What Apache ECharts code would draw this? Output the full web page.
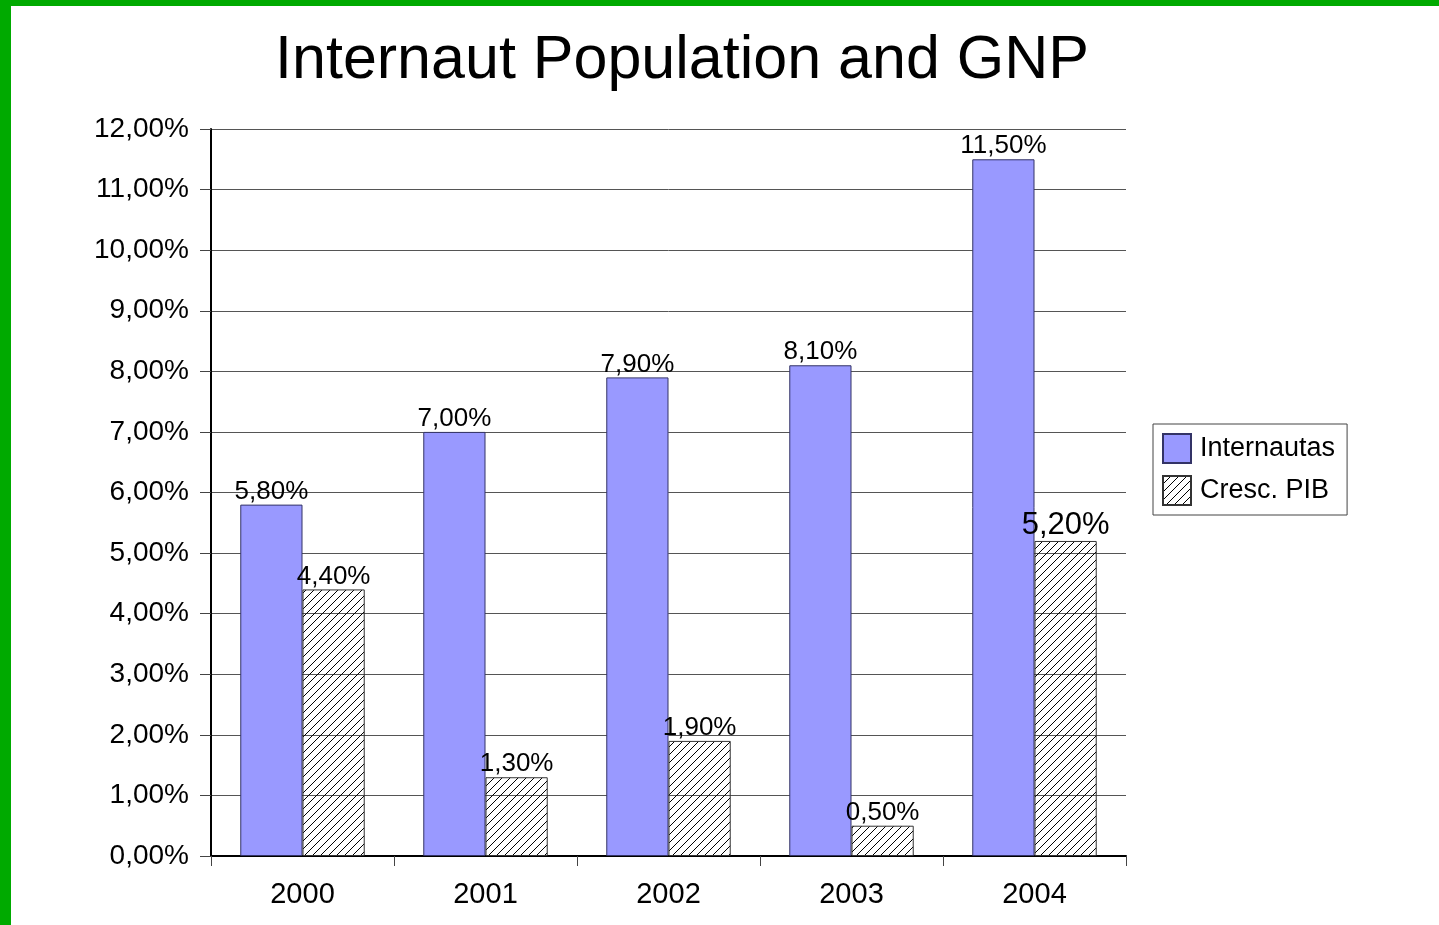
<!DOCTYPE html>
<html>
<head>
<meta charset="utf-8">
<script src="https://cdn.jsdelivr.net/npm/echarts@6/dist/echarts.min.js"></script>
<style>
html,body{margin:0;padding:0;background:#fff;}
#chart{position:absolute;left:0;top:0;width:1439px;height:925px;}
.gl{position:absolute;left:0;top:0;width:11px;height:925px;background:#00aa00;}
.gt{position:absolute;left:0;top:0;width:1439px;height:6px;background:#00aa00;}
</style>
</head>
<body>
<div id="chart"></div>
<div class="gl"></div>
<div class="gt"></div>
<script>
const categories = ['2000', '2001', '2002', '2003', '2004'];
const internautas = [5.8, 7.0, 7.9, 8.1, 11.5];
const crescPIB = [4.4, 1.3, 1.9, 0.5, 5.2];
const seriesNames = ['Internautas', 'Cresc. PIB'];
const titleText = 'Internaut Population and GNP';

function fmt(v) { return Number(v).toFixed(2).replace('.', ',') + '%'; }

// hatch pattern
const pc = document.createElement('canvas');
pc.width = 8; pc.height = 8;
const px = pc.getContext('2d');
px.strokeStyle = '#000';
px.lineWidth = 1;
px.beginPath();
px.moveTo(-1, 9); px.lineTo(9, -1);
px.moveTo(-5, 5); px.lineTo(5, -5);
px.moveTo(3, 13); px.lineTo(13, 3);
px.stroke();
const hatch = { image: pc, repeat: 'repeat' };

const chart = echarts.init(document.getElementById('chart'), null, { renderer: 'canvas' });
const font = 'Liberation Sans, Arial, sans-serif';
chart.setOption({
  animation: false,
  textStyle: { fontFamily: font, color: '#000' },
  title: {
    text: titleText, left: 677, top: 26, textAlign: 'center',
    textStyle: { fontSize: 61, fontWeight: 'normal', color: '#000', fontFamily: font }
  },
  grid: { left: 211, right: 313, top: 129, bottom: 69, containLabel: false },
  legend: {
    orient: 'vertical', left: 1153, top: 424,
    padding: [9, 12, 9, 9], itemGap: 11, itemWidth: 28, itemHeight: 29,
    borderColor: '#444', borderWidth: 1,
    textStyle: { fontSize: 27, color: '#000', fontFamily: font, padding: [0, 0, 0, 4] },
    data: [
      { name: seriesNames[0], icon: 'rect' },
      { name: seriesNames[1], icon: 'rect' }
    ]
  },
  xAxis: {
    type: 'category', data: categories,
    axisLine: { lineStyle: { color: '#000', width: 2 } },
    axisTick: { show: true, length: 10, lineStyle: { color: '#444' } },
    axisLabel: { fontSize: 29, color: '#000', margin: 24, fontFamily: font },
    splitLine: { show: false }
  },
  yAxis: {
    type: 'value', min: 0, max: 12, interval: 1,
    axisLine: { show: true, lineStyle: { color: '#000', width: 2 } },
    axisTick: { show: true, length: 11, lineStyle: { color: '#444' } },
    axisLabel: { fontSize: 28, color: '#000', margin: 22, formatter: fmt, fontFamily: font },
    splitLine: { show: true, lineStyle: { color: '#555', width: 1 } }
  },
  series: [
    {
      name: seriesNames[0], type: 'bar', data: internautas,
      barGap: '0%', barCategoryGap: '32%',
      itemStyle: { color: '#9999ff', borderColor: '#333366', borderWidth: 1 },
      label: { show: true, position: 'top', distance: 0, formatter: p => fmt(p.value), fontSize: 26, color: '#000', fontFamily: font }
    },
    {
      name: seriesNames[1], type: 'bar',
      data: crescPIB.map((v, i) => i === crescPIB.length - 1 ? { value: v, label: { fontSize: 31 } } : v),
      barGap: '0%', barCategoryGap: '32%',
      itemStyle: { color: hatch, borderColor: '#333', borderWidth: 1 },
      label: { show: true, position: 'top', distance: 0, formatter: p => fmt(p.value), fontSize: 26, color: '#000', fontFamily: font }
    }
  ]
});
</script>
</body>
</html>
